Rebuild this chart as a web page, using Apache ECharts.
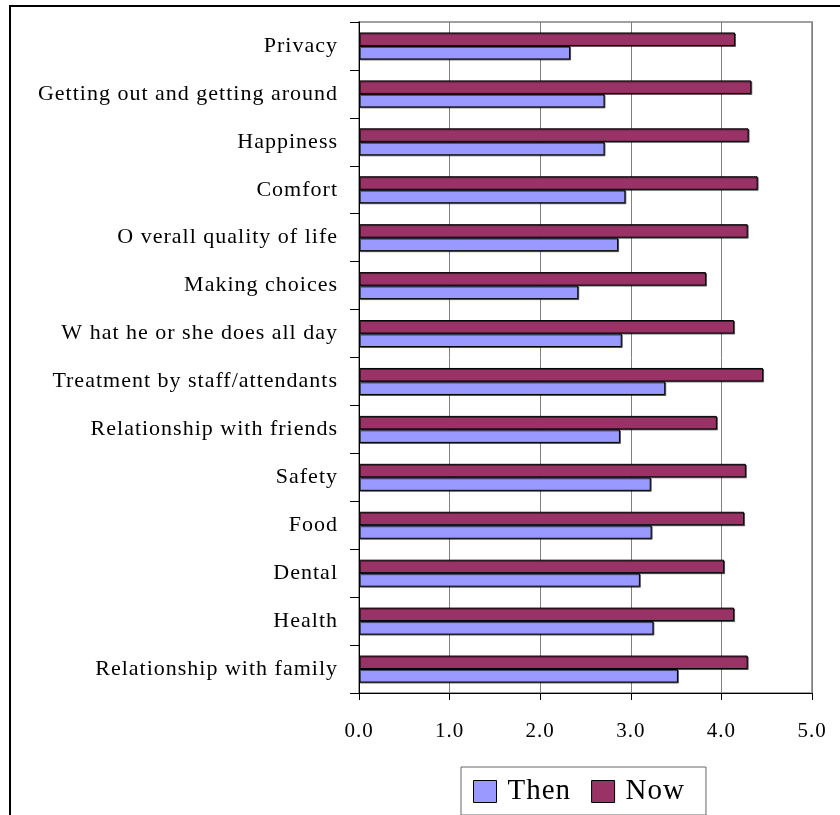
<!DOCTYPE html>
<html>
<head>
<meta charset="utf-8">
<script src="https://cdn.jsdelivr.net/npm/echarts@6/dist/echarts.min.js"></script>
<style>
  html, body { margin: 0; padding: 0; background: #fff; }
  #chart { width: 840px; height: 815px; }
</style>
</head>
<body>
<div id="chart"></div>
<script>
// Quality-of-life ratings, listed from top to bottom
const categories = [
  'Privacy',
  'Getting out and getting around',
  'Happiness',
  'Comfort',
  'O verall quality of life',
  'Making choices',
  'W hat he or she does all day',
  'Treatment by staff/attendants',
  'Relationship with friends',
  'Safety',
  'Food',
  'Dental',
  'Health',
  'Relationship with family'
];
const thenValues = [2.33, 2.71, 2.71, 2.94, 2.86, 2.42, 2.90, 3.38, 2.88, 3.22, 3.23, 3.10, 3.25, 3.52];
const nowValues  = [4.15, 4.33, 4.30, 4.40, 4.29, 3.83, 4.14, 4.46, 3.95, 4.27, 4.25, 4.03, 4.14, 4.29];
const xTicks = { min: 0, max: 5, interval: 1 };
const legendNames = ['Then', 'Now'];

const serif = '"Liberation Serif", "Times New Roman", serif';

const chart = echarts.init(document.getElementById('chart'), null, { renderer: 'canvas' });

const barShadow = { shadowColor: 'rgba(0,0,0,0.55)', shadowBlur: 0, shadowOffsetX: 1, shadowOffsetY: 1 };

const option = {
  animation: false,
  backgroundColor: '#fff',
  graphic: [{
    type: 'rect',
    silent: true,
    shape: { x: 10, y: 6, width: 860, height: 860 },
    style: { fill: 'none', stroke: '#000', lineWidth: 2 }
  }],
  grid: {
    left: 359, right: 28, top: 22, bottom: 122,
    show: true,
    borderColor: '#a0a0a0',
    borderWidth: 2,
    containLabel: false
  },
  legend: {
    data: legendNames,
    left: 461,
    top: 767,
    padding: [10, 24, 9, 12],
    itemWidth: 23,
    itemHeight: 22,
    itemGap: 24,
    icon: 'rect',
    borderColor: '#666',
    borderWidth: 1,
    borderRadius: 0,
    itemStyle: { borderColor: '#000', borderWidth: 1 },
    textStyle: { fontFamily: serif, fontSize: 29, color: '#000', padding: [0, 0, 0, 6] }
  },
  xAxis: {
    type: 'value',
    min: xTicks.min,
    max: xTicks.max,
    interval: xTicks.interval,
    axisLine: { show: true, lineStyle: { color: '#000', width: 1 } },
    axisTick: { show: true, length: 7, lineStyle: { color: '#000' } },
    splitLine: { show: true, lineStyle: { color: '#808080', width: 1 } },
    axisLabel: {
      margin: 28,
      fontFamily: serif,
      fontSize: 21,
      color: '#000',
      formatter: v => v.toFixed(1)
    }
  },
  yAxis: {
    type: 'category',
    data: categories,
    inverse: true,
    axisLine: { show: true, lineStyle: { color: '#000', width: 1 } },
    axisTick: { show: true, length: 9, lineStyle: { color: '#000' } },
    axisLabel: {
      interval: 0,
      margin: 21,
      fontFamily: serif,
      fontSize: 22,
      color: '#000'
    },
    splitLine: { show: false }
  },
  series: [
    {
      name: 'Now',
      type: 'bar',
      data: nowValues,
      barWidth: 13.5,
      barGap: '0%',
      itemStyle: Object.assign({ color: '#993366', borderColor: '#000', borderWidth: 1 }, barShadow)
    },
    {
      name: 'Then',
      type: 'bar',
      data: thenValues,
      barWidth: 13.5,
      barGap: '0%',
      itemStyle: Object.assign({ color: '#9999ff', borderColor: '#000', borderWidth: 1 }, barShadow)
    }
  ]
};

chart.setOption(option);

// Widen the text tracking to the loose serif look, then repaint everything.
const zr = chart.getZr();
if (zr.refreshImmediately) zr.refreshImmediately();
document.querySelectorAll('#chart canvas').forEach(c => {
  const ctx = c.getContext('2d');
  if ('letterSpacing' in ctx) ctx.letterSpacing = '1px';
});
if (zr.painter && zr.painter.refresh) zr.painter.refresh(true);
</script>
</body>
</html>
